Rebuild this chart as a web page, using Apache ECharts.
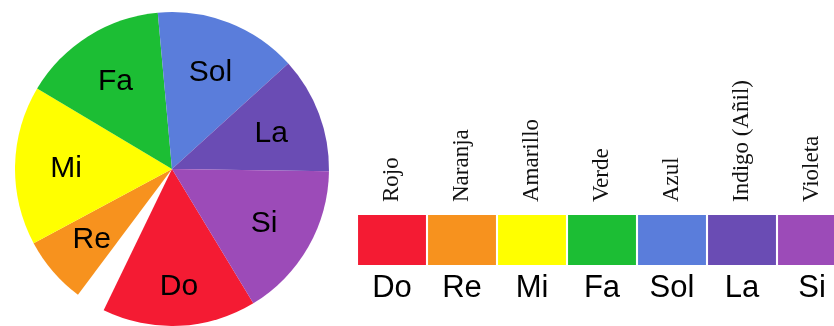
<!DOCTYPE html>
<html>
<head>
<meta charset="utf-8">
<script src="https://cdn.jsdelivr.net/npm/echarts@6/dist/echarts.min.js"></script>
<style>
html, body { margin: 0; padding: 0; background: #fff; }
#chart { width: 834px; height: 326px; }
</style>
</head>
<body>
<div id="chart"></div>
<script>
// notas, nombres de color y colores
const notas = ['Do', 'Re', 'Mi', 'Fa', 'Sol', 'La', 'Si']
const nombresColor = ['Rojo', 'Naranja', 'Amarillo', 'Verde', 'Azul', 'Indigo (Añil)', 'Violeta']
const colores = ['#F41B33', '#F7921E', '#FFFF00', '#1CBE34', '#5A7DDB', '#6A4CB4', '#9C4BB8']
// grados de cada porción del pastel (el hueco blanco va entre Do y Re)
const gradosPastel = [57, 25, 59, 54, 53, 43, 58]
const gradosHueco = 11
// cada celda de la barra vale lo mismo
const valoresBarra = [1, 1, 1, 1, 1, 1, 1]

const chart = echarts.init(document.getElementById('chart'))

// Do, hueco, Re ... Si
const pieData = [{ name: notas[0], value: gradosPastel[0], itemStyle: { color: colores[0] } },
  { name: '', value: gradosHueco, itemStyle: { color: 'rgba(0,0,0,0)' } }]
notas.slice(1).forEach((n, i) => {
  pieData.push({ name: n, value: gradosPastel[i + 1], itemStyle: { color: colores[i + 1] } })
})
// capa solo para las etiquetas (mas afuera que 'inside' normal)
const labelData = pieData.map(d => ({
  name: d.name,
  value: d.value,
  label: { show: d.name !== '', offset: d.name === 'Do' ? [2, 12] : [0, 2] }
}))

const sans = '"Liberation Sans", Arial, sans-serif'

const option = {
  backgroundColor: '#fff',
  animation: false,
  grid: {
    left: 357,
    top: 215,
    width: 490,
    height: 50,
    outerBoundsMode: 'none'
  },
  xAxis: [{
    type: 'category',
    data: notas,
    axisLine: { show: false },
    axisTick: { show: false },
    axisLabel: {
      margin: 8,
      fontSize: 31,
      fontFamily: sans,
      color: '#000'
    }
  }, {
    type: 'category',
    position: 'top',
    data: nombresColor,
    axisLine: { show: false },
    axisTick: { show: false },
    axisLabel: {
      rotate: -90,
      margin: 13,
      fontSize: 23,
      fontFamily: '"Liberation Serif", "DejaVu Serif", serif',
      color: '#111'
    }
  }],
  yAxis: { type: 'value', min: 0, max: 1, show: false },
  series: [{
    type: 'pie',
    center: [172, 169],
    radius: 157,
    startAngle: 301.2,
    clockwise: true,
    silent: true,
    label: { show: false },
    labelLine: { show: false },
    data: pieData
  }, {
    type: 'pie',
    center: [172, 169],
    radius: [49, 157],
    startAngle: 301.2,
    clockwise: true,
    silent: true,
    itemStyle: { color: 'rgba(0,0,0,0)' },
    label: {
      position: 'inside',
      fontSize: 30,
      fontFamily: sans,
      color: '#000'
    },
    labelLine: { show: false },
    data: labelData
  }, {
    type: 'bar',
    data: valoresBarra,
    barCategoryGap: '3%',
    silent: true,
    itemStyle: {
      color: (p) => colores[p.dataIndex]
    }
  }]
}

chart.setOption(option)
</script>
</body>
</html>
